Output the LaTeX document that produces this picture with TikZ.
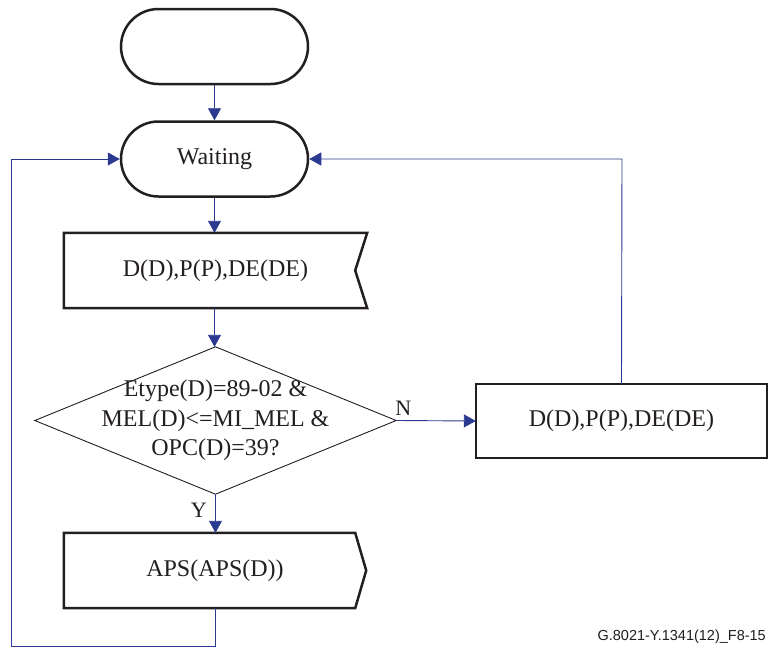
\documentclass[tikz,border=0pt]{standalone}
\usepackage{fontspec}
\setmainfont{Liberation Serif}
\newfontfamily\capfont{Liberation Sans}
\usetikzlibrary{arrows.meta,shapes.misc}
\definecolor{connblue}{RGB}{43,57,144}
\definecolor{outl}{RGB}{35,31,32}
\begin{document}
\begin{tikzpicture}[x=1pt,y=-1pt,
  term/.style={rounded rectangle, draw=outl, line width=2.5pt, minimum width=187pt, minimum height=75pt, inner sep=0pt, font=\fontsize{24}{29}\selectfont, text=outl},
  holder/.style={rectangle, draw=none, inner sep=0pt, font=\fontsize{24}{29.5}\selectfont, text=outl, align=center},
  outline/.style={draw=outl, line width=2.5pt, line join=miter},
  thinline/.style={draw=outl, line width=0.9pt, line join=miter},
  conn/.style={draw=connblue, line width=0.9pt, -{Triangle[length=12pt,width=13pt]}},
  lab/.style={inner sep=0pt, font=\fontsize{22}{24}\selectfont, text=outl}
]
\useasboundingbox (0,0) rectangle (769,648);
\fill[white] (0,0) rectangle (769,648);

% nodes
\node[term] (start) at (214.5,46.5) {};
\node[term] (wait) at (214.5,159) {Waiting};
\node[holder, minimum width=303pt, minimum height=75pt] (in) at (215.5,270.5) {D(D),P(P),DE(DE)};
\node[holder, minimum width=361pt, minimum height=147pt] (dec) at (215.5,420.5) {Etype(D)=89-02 \&\\MEL(D)<=MI\_MEL \&\\OPC(D)=39?};
\node[holder, minimum width=291pt, minimum height=74pt] (task) at (621.5,421) {D(D),P(P),DE(DE)};
\node[holder, minimum width=302pt, minimum height=75pt] (out) at (215,570.5) {APS(APS(D))};

% outlines
\draw[outline] (in.north west) -- (in.north east) -- ([xshift=-12pt]in.east) -- (in.south east) -- (in.south west) -- cycle;
\draw[thinline] (dec.north) -- (dec.east) -- (dec.south) -- (dec.west) -- cycle;
\draw[outline] (task.north west) rectangle (task.south east);
\draw[outline] (out.north west) -- ([xshift=-11pt]out.north east) -- (out.east) -- ([xshift=-11pt]out.south east) -- (out.south west) -- cycle;

% labels
\node[lab, anchor=base west] (nlab) at ([xshift=-1pt,yshift=5pt]dec.east) {N};
\node[lab, anchor=base east] (ylab) at ([xshift=-8.5pt,yshift=-23pt]dec.south) {Y};
\node[inner sep=0pt, anchor=base east, font=\capfont\fontsize{14.5}{16}\selectfont, text=outl] (cap) at (766,640) {G.8021-Y.1341(12)\_F8-15};

% connectors
\coordinate (lb) at (11,646);
\coordinate (tr) at (622,159);
\draw[conn] (start.south) -- (wait.north);
\draw[conn] (wait.south) -- (wait.south |- in.north);
\draw[conn] (wait.south |- in.south) -- (wait.south |- dec.north);
\draw[conn] (dec.south) -- (dec.south |- out.north);
\draw[conn] (dec.east) -- (task.west);
\draw[conn] (task.north) -- (tr) -- (wait.east);
\draw[conn] (dec.south |- out.south) |- (lb) |- (wait.west);
\end{tikzpicture}
\end{document}
